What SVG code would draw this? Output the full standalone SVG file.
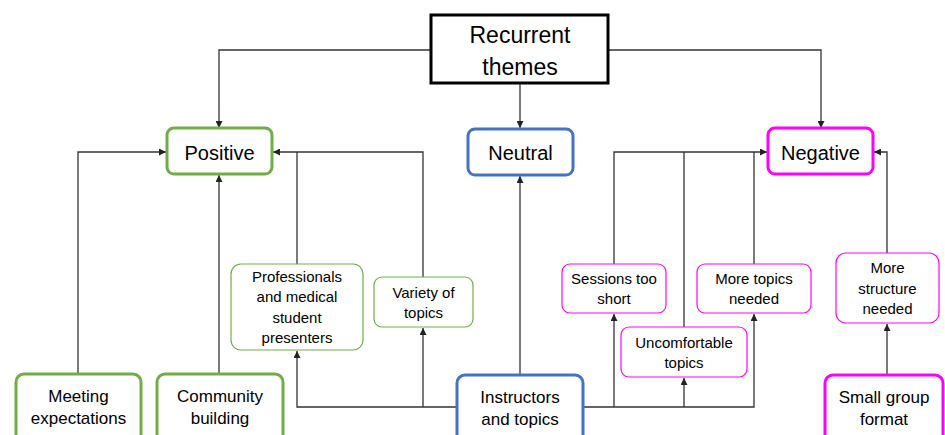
<svg xmlns="http://www.w3.org/2000/svg" width="945" height="435" viewBox="0 0 945 435">
<style>
text{font-family:"Liberation Sans",Arial,sans-serif;fill:#000;text-anchor:middle}
.t{font-size:23px}
.m{font-size:20px}
.b{font-size:17px}
.s{font-size:15px}
.g3{fill:#fff;stroke:#70AD47;stroke-width:3}
.g1{fill:#fff;stroke:#70AD47;stroke-width:1.2}
.bl3{fill:#fff;stroke:#4472C4;stroke-width:3}
.p3{fill:#fff;stroke:#FF00FF;stroke-width:3}
.p1{fill:#fff;stroke:#FF00FF;stroke-width:1.2}
.c{fill:none;stroke:#333;stroke-width:1.3}
</style>
<defs>
<marker id="ah" viewBox="0 0 10 10" refX="10" refY="5" markerWidth="7" markerHeight="7" markerUnits="userSpaceOnUse" orient="auto">
<path d="M0,0 L10,5 L0,10 z" fill="#222"/>
</marker>
</defs>
<g id="connectors">
<path class="c" d="M431,50 H219 V128" marker-end="url(#ah)"/>
<path class="c" d="M520,83 V128" marker-end="url(#ah)"/>
<path class="c" d="M608,50 H821 V128" marker-end="url(#ah)"/>
<path class="c" d="M78,374 V152 H166" marker-end="url(#ah)"/>
<path class="c" d="M219,374 V175" marker-end="url(#ah)"/>
<path class="c" d="M297,264 V152"/>
<path class="c" d="M423,277 V152 H273" marker-end="url(#ah)"/>
<path class="c" d="M520,375 V176" marker-end="url(#ah)"/>
<path class="c" d="M457,407 H297 V351" marker-end="url(#ah)"/>
<path class="c" d="M423,407 V328" marker-end="url(#ah)"/>
<path class="c" d="M583,407 H754 V314" marker-end="url(#ah)"/>
<path class="c" d="M614,407 V314" marker-end="url(#ah)"/>
<path class="c" d="M684,407 V378" marker-end="url(#ah)"/>
<path class="c" d="M614,264 V152 H767" marker-end="url(#ah)"/>
<path class="c" d="M684,327 V152"/>
<path class="c" d="M754,264 V152"/>
<path class="c" d="M887,253 V152 H874" marker-end="url(#ah)"/>
<path class="c" d="M887,375 V324" marker-end="url(#ah)"/>
</g>
<g id="recurrent">
<rect x="431" y="15" width="177" height="68" fill="#fff" stroke="#000" stroke-width="3"/>
<text class="t" x="520" y="43">Recurrent</text>
<text class="t" x="520" y="75">themes</text>
</g>
<g id="positive">
<rect class="g3" x="167" y="128" width="105" height="46" rx="7"/>
<text class="m" x="219.5" y="160">Positive</text>
</g>
<g id="neutral">
<rect class="bl3" x="468" y="129" width="105" height="46" rx="7"/>
<text class="m" x="520.5" y="160">Neutral</text>
</g>
<g id="negative">
<rect class="p3" x="768" y="128" width="105" height="46" rx="7"/>
<text class="m" x="820.5" y="160">Negative</text>
</g>
<g id="meeting">
<rect class="g3" x="16" y="374" width="125" height="70" rx="8"/>
<text class="b" x="78.5" y="402">Meeting</text>
<text class="b" x="78.5" y="424">expectations</text>
</g>
<g id="community">
<rect class="g3" x="157" y="374" width="126" height="70" rx="8"/>
<text class="b" x="220" y="402">Community</text>
<text class="b" x="220" y="424">building</text>
</g>
<g id="professionals">
<rect class="g1" x="231" y="264" width="132" height="86" rx="10"/>
<text class="s" x="297" y="282">Professionals</text>
<text class="s" x="297" y="302">and medical</text>
<text class="s" x="297" y="323">student</text>
<text class="s" x="297" y="343">presenters</text>
</g>
<g id="variety">
<rect class="g1" x="374" y="277" width="99" height="50" rx="8"/>
<text class="s" x="423.5" y="298">Variety of</text>
<text class="s" x="423.5" y="318">topics</text>
</g>
<g id="instructors">
<rect class="bl3" x="457" y="375" width="126" height="70" rx="8"/>
<text class="b" x="520" y="403">Instructors</text>
<text class="b" x="520" y="425">and topics</text>
</g>
<g id="sessions">
<rect class="p1" x="562" y="264" width="104" height="49" rx="8"/>
<text class="s" x="614" y="284">Sessions too</text>
<text class="s" x="614" y="304">short</text>
</g>
<g id="uncomfortable">
<rect class="p1" x="621" y="327" width="126" height="50" rx="8"/>
<text class="s" x="684" y="348">Uncomfortable</text>
<text class="s" x="684" y="368">topics</text>
</g>
<g id="moretopics">
<rect class="p1" x="697" y="264" width="114" height="49" rx="8"/>
<text class="s" x="754" y="284">More topics</text>
<text class="s" x="754" y="304">needed</text>
</g>
<g id="morestructure">
<rect class="p1" x="836" y="253" width="103" height="70" rx="10"/>
<text class="s" x="887.5" y="273">More</text>
<text class="s" x="887.5" y="294">structure</text>
<text class="s" x="887.5" y="314">needed</text>
</g>
<g id="smallgroup">
<rect class="p3" x="825" y="375" width="118" height="70" rx="8"/>
<text class="b" x="884" y="403">Small group</text>
<text class="b" x="884" y="425">format</text>
</g>
</svg>
